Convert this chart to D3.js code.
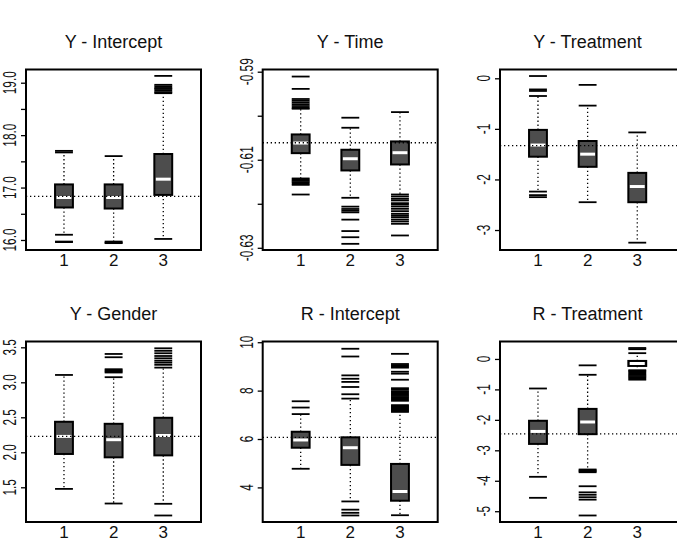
<!DOCTYPE html>
<html>
<head>
<meta charset="utf-8">
<script src="https://cdn.jsdelivr.net/npm/d3@7"></script>
<style>
  body { margin: 0; background: #fff; }
  text { font-family: "Liberation Sans", Arial, Helvetica, sans-serif; fill: #111; }
</style>
</head>
<body>
<div id="chart"></div>
<script>
// groups on the x axis
var groups = [1, 2, 3];

var titles = ["Y - Intercept", "Y - Time", "Y - Treatment", "Y - Gender", "R - Intercept", "R - Treatment"];

// each box: [lower whisker, q1, median, q3, upper whisker]
var yInterceptBoxes = [
  [16.10, 16.62, 16.81, 17.06, 17.67],
  [15.97, 16.60, 16.81, 17.06, 17.60],
  [16.02, 16.86, 17.16, 17.64, 18.80]
];
var yInterceptOut = [
  [15.96, 15.97, 17.70],
  [15.94, 15.95],
  [18.82, 18.85, 18.88, 18.90, 18.93, 18.96, 19.13]
];

var yTimeBoxes = [
  [-0.61425, -0.6085, -0.6062, -0.60425, -0.59841],
  [-0.61864, -0.61243, -0.60977, -0.60773, -0.60273],
  [-0.61789, -0.61107, -0.6084, -0.60584, -0.59918]
];
var yTimeOut = [
  [-0.5982, -0.5978, -0.5974, -0.5970, -0.5966, -0.5962, -0.5939, -0.5911,
   -0.6145, -0.6148, -0.6151, -0.6154, -0.6157, -0.6179],
  [-0.60045, -0.62065, -0.62118, -0.62157, -0.62195, -0.6236, -0.6262, -0.6276, -0.6291],
  [-0.61834, -0.61886, -0.61925, -0.61986, -0.62016, -0.62061, -0.62114, -0.62168,
   -0.62227, -0.62266, -0.62304, -0.62357, -0.62402, -0.62455, -0.6272]
];

var yTreatBoxes = [
  [-2.24, -1.55, -1.32, -1.02, -0.35],
  [-2.45, -1.75, -1.50, -1.24, -0.54],
  [-3.25, -2.45, -2.14, -1.87, -1.07]
];
var yTreatOut = [
  [0.045, -0.22, -0.25, -2.31, -2.35],
  [-0.13],
  []
];

var yGenderBoxes = [
  [1.477, 1.976, 2.227, 2.436, 3.105],
  [1.268, 1.928, 2.18, 2.407, 3.073],
  [1.264, 1.956, 2.24, 2.493, 3.21]
];
var yGenderOut = [
  [],
  [3.14, 3.155, 3.17, 3.187, 3.358, 3.405],
  [3.25, 3.281, 3.309, 3.343, 3.376, 3.415, 3.45, 3.486, 1.097]
];

var rInterceptBoxes = [
  [4.77, 5.64, 5.96, 6.30, 7.03],
  [3.42, 4.93, 5.64, 6.07, 7.67],
  [2.85, 3.45, 3.83, 4.97, 7.12]
];
var rInterceptOut = [
  [7.30, 7.56],
  [7.85, 8.15, 8.36, 8.49, 8.63, 9.41, 9.73, 3.08, 2.95, 2.84],
  [7.16, 7.20, 7.24, 7.28, 7.32, 7.36, 7.40, 7.58, 7.63, 7.68, 7.73, 7.78, 7.83,
   7.88, 7.93, 7.98, 8.05, 8.10, 8.45, 8.70, 8.78, 8.95, 9.00, 9.05, 9.10, 9.52]
];

var rTreatBoxes = [
  [-3.87, -2.79, -2.38, -2.03, -0.97],
  [-3.63, -2.47, -2.07, -1.64, -0.52],
  [-0.37, -0.23, -0.15, -0.065, 0.19]
];
var rTreatOut = [
  [-4.56],
  [-0.21, -3.66, -3.69, -3.72, -4.18, -4.38, -4.46, -4.54, -4.62, -5.14],
  [0.32, 0.36, -0.40, -0.44, -0.48, -0.52, -0.56, -0.60, -0.64, -0.68]
];

// dotted reference value in each panel
var refValues = [16.83, -0.60614, -1.33, 2.227, 6.07, -2.46];

var yDomains = [
  [15.809, 19.252],
  [-0.6305, -0.5895],
  [-3.395, 0.174],
  [1.004, 3.583],
  [2.57, 10.03],
  [-5.354, 0.573]
];

var yTicks = [
  [16.0, 16.5, 17.0, 17.5, 18.0, 18.5, 19.0],
  [-0.63, -0.62, -0.61, -0.60, -0.59],
  [0, -1, -2, -3],
  [1.5, 2.0, 2.5, 3.0, 3.5],
  [4, 6, 8, 10],
  [0, -1, -2, -3, -4, -5]
];
var yTickLabels = [
  ["16.0", "", "17.0", "", "18.0", "", "19.0"],
  ["-0.63", "", "-0.61", "", "-0.59"],
  ["0", "-1", "-2", "-3"],
  ["1.5", "2.0", "2.5", "3.0", "3.5"],
  ["4", "6", "8", "10"],
  ["0", "-1", "-2", "-3", "-4", "-5"]
];

var boxes = [yInterceptBoxes, yTimeBoxes, yTreatBoxes, yGenderBoxes, rInterceptBoxes, rTreatBoxes];
var outs = [yInterceptOut, yTimeOut, yTreatOut, yGenderOut, rInterceptOut, rTreatOut];

var width = 677, height = 539;
var colLeft = [26, 262.7, 500],
    rowTop = [69.5, 341.5],
    pw = 175, ph = 180.5;
var frameW = [175, 175, 182];

var svg = d3.select('#chart')
  .append('svg')
  .attr('width', width)
  .attr('height', height);

var x = d3.scaleLinear().domain([0.235, 3.76]).range([0, pw]);
var halfW = x(1.18) - x(1);

titles.forEach(function (title, i) {
  var col = i % 3, row = Math.floor(i / 3);
  var g = svg.append('g')
    .attr('transform', 'translate(' + colLeft[col] + ',' + rowTop[row] + ')');

  var y = d3.scaleLinear().domain(yDomains[i]).range([ph, 0]);

  var data = groups.map(function (grp, k) {
    return { g: grp, s: boxes[i][k], out: outs[i][k] };
  });

  var bx = g.selectAll('g.bx')
    .data(data)
    .join('g')
    .attr('class', 'bx');

  // dotted whiskers
  bx.append('line')
    .attr('x1', d => x(d.g)).attr('x2', d => x(d.g))
    .attr('y1', d => y(d.s[3])).attr('y2', d => y(d.s[4]))
    .attr('stroke', '#000').attr('stroke-width', 1.3)
    .attr('stroke-dasharray', '1.3,2.7');
  bx.append('line')
    .attr('x1', d => x(d.g)).attr('x2', d => x(d.g))
    .attr('y1', d => y(d.s[1])).attr('y2', d => y(d.s[0]))
    .attr('stroke', '#000').attr('stroke-width', 1.3)
    .attr('stroke-dasharray', '1.3,2.7');

  // caps
  bx.selectAll('line.cap')
    .data(d => [[d.g, d.s[0]], [d.g, d.s[4]]])
    .join('line')
    .attr('class', 'cap')
    .attr('x1', d => x(d[0]) - halfW).attr('x2', d => x(d[0]) + halfW)
    .attr('y1', d => y(d[1])).attr('y2', d => y(d[1]))
    .attr('stroke', '#000').attr('stroke-width', 1.8);

  // outliers drawn as dashes
  bx.selectAll('line.out')
    .data(d => d.out.map(v => [d.g, v]))
    .join('line')
    .attr('class', 'out')
    .attr('x1', d => x(d[0]) - halfW).attr('x2', d => x(d[0]) + halfW)
    .attr('y1', d => y(d[1])).attr('y2', d => y(d[1]))
    .attr('stroke', '#000').attr('stroke-width', 1.8);

  // box
  bx.append('rect')
    .attr('x', d => x(d.g) - halfW)
    .attr('y', d => y(d.s[3]))
    .attr('width', halfW * 2)
    .attr('height', d => y(d.s[1]) - y(d.s[3]))
    .attr('fill', '#4d4d4d')
    .attr('stroke', '#000')
    .attr('stroke-width', 2);

  // median
  bx.append('line')
    .attr('x1', d => x(d.g) - halfW + 1.5).attr('x2', d => x(d.g) + halfW - 1.5)
    .attr('y1', d => y(d.s[2])).attr('y2', d => y(d.s[2]))
    .attr('stroke', '#fff').attr('stroke-width', 3);

  // reference line
  g.append('line')
    .attr('x1', 0).attr('x2', frameW[col])
    .attr('y1', y(refValues[i])).attr('y2', y(refValues[i]))
    .attr('stroke', '#000').attr('stroke-width', 1.3)
    .attr('stroke-dasharray', '1.3,2.7');

  // frame
  g.append('rect')
    .attr('x', 0).attr('y', 0)
    .attr('width', frameW[col]).attr('height', ph)
    .attr('fill', 'none')
    .attr('stroke', '#000')
    .attr('stroke-width', 2);

  // y axis ticks
  var ax = g.append('g')
    .call(d3.axisLeft(y).tickValues(yTicks[i]).tickSize(5).tickFormat(''));
  ax.select('.domain').remove();
  ax.selectAll('.tick line').attr('stroke', '#000').attr('stroke-width', 1.3);

  g.selectAll('text.ylab')
    .data(yTicks[i].map((v, k) => [v, yTickLabels[i][k]]).filter(d => d[1] !== ''))
    .join('text')
    .attr('class', 'ylab')
    .attr('transform', d => 'translate(-10,' + y(d[0]) + ') rotate(-90) scale(0.64,1)')
    .attr('text-anchor', 'middle')
    .style('font-size', '18.5px')
    .text(d => d[1]);

  // x labels
  g.selectAll('text.xlab')
    .data(groups)
    .join('text')
    .attr('class', 'xlab')
    .attr('x', d => x(d))
    .attr('y', ph + 15.5)
    .attr('text-anchor', 'middle')
    .style('font-size', '17px')
    .text(d => d);

  // title
  g.append('text')
    .attr('x', pw / 2)
    .attr('y', -21.3)
    .attr('text-anchor', 'middle')
    .style('font-size', '18px')
    .text(title);
});
</script>
</body>
</html>
